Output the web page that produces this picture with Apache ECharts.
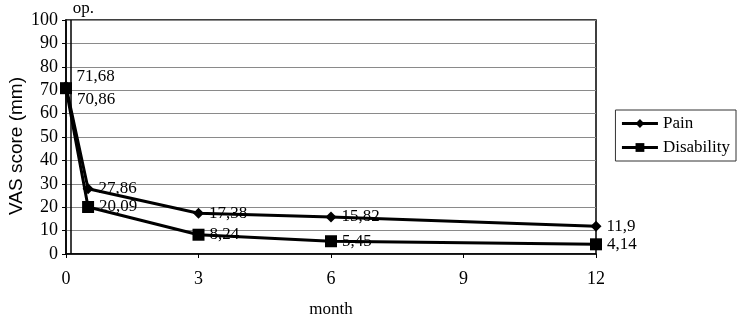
<!DOCTYPE html>
<html>
<head>
<meta charset="utf-8">
<script src="https://cdn.jsdelivr.net/npm/echarts@6/dist/echarts.min.js"></script>
<style>
  html, body { margin: 0; padding: 0; background: #fff; }
  #chart { width: 739px; height: 317px; }
</style>
</head>
<body>
<div id="chart"></div>
<script>
// months after operation
const months = [0, 0.5, 3, 6, 12];
const painValues = [71.68, 27.86, 17.38, 15.82, 11.9];
const disabilityValues = [70.86, 20.09, 8.24, 5.45, 4.14];
// vertical nudge of each data label (first two are split above / below)
const painLabelShift = [-10, 0, 0, 0, 0];
const disabilityLabelShift = [11, 0, 0, 0, 0];

const serif = '"Liberation Serif", "DejaVu Serif", serif';
const fmt = (v) => String(v).replace('.', ',');

const chart = echarts.init(document.getElementById('chart'), undefined, { renderer: 'canvas' });

function buildData(values, shifts) {
	return months.map((m, i) => ({
		value: [m, values[i]],
		label: { offset: [0, shifts[i]] },
	}));
}

const labelStyle = {
	show: true,
	position: 'right',
	color: '#000',
	fontFamily: serif,
	fontSize: 17,
	distance: 5,
	formatter: (p) => fmt(p.value[1]),
};

chart.setOption({
	backgroundColor: '#fff',
	animation: false,
	grid: {
		left: 66, right: 143, top: 20, bottom: 63,
		outerBoundsMode: 'none',
		containLabel: false,
		show: true, borderColor: '#000', borderWidth: 1.5,
	},
	legend: {
		orient: 'vertical',
		right: 3,
		top: 110,
		data: ['Pain', 'Disability'],
		borderColor: '#333',
		borderWidth: 1,
		padding: [5, 6, 5, 5],
		itemGap: 7,
		itemWidth: 36,
		itemHeight: 11,
		lineStyle: { width: 3 },
		textStyle: { fontFamily: serif, fontSize: 17, color: '#000' },
	},
	xAxis: {
		type: 'value',
		min: 0, max: 12, interval: 3,
		name: 'month',
		nameLocation: 'middle',
		nameGap: 47,
		nameTextStyle: { fontFamily: serif, fontSize: 17, color: '#000' },
		axisLine: { lineStyle: { color: '#000', width: 1.5 } },
		axisTick: { show: true, length: 4, lineStyle: { color: '#000' } },
		axisLabel: { fontFamily: serif, fontSize: 18, color: '#000', margin: 16 },
		splitLine: { show: false },
	},
	yAxis: {
		type: 'value',
		min: 0, max: 100, interval: 10,
		name: 'VAS score (mm)',
		nameLocation: 'middle',
		nameGap: 40,
		nameMoveOverlap: false,
		nameTextStyle: {
			fontFamily: '"Liberation Sans", Arial, sans-serif', fontSize: 19, color: '#000',
			padding: [0, 18, 0, 0],
		},
		axisLine: { show: true, lineStyle: { color: '#000', width: 1.5 } },
		axisTick: { show: true, length: 4, lineStyle: { color: '#000' } },
		axisLabel: { fontFamily: serif, fontSize: 18, color: '#000', margin: 8 },
		splitLine: { show: true, lineStyle: { color: '#8a8a8a', width: 1 } },
	},
	series: [
		{
			name: 'Pain',
			type: 'line',
			data: buildData(painValues, painLabelShift),
			symbol: 'diamond',
			symbolSize: 11,
			lineStyle: { color: '#000', width: 3 },
			itemStyle: { color: '#000' },
			label: labelStyle,
			markLine: {
				silent: true,
				symbol: 'none',
				lineStyle: { color: '#000', width: 1.5, type: 'solid' },
				label: {
					show: true, position: 'end', formatter: 'op.',
					fontFamily: serif, fontSize: 17, color: '#000', offset: [13, 2],
				},
				data: [{ xAxis: 0.1 }],
			},
		},
		{
			name: 'Disability',
			type: 'line',
			data: buildData(disabilityValues, disabilityLabelShift),
			symbol: 'rect',
			symbolSize: 12,
			lineStyle: { color: '#000', width: 3 },
			itemStyle: { color: '#000' },
			label: labelStyle,
		},
	],
});

window.addEventListener('resize', () => chart.resize());
</script>
</body>
</html>
